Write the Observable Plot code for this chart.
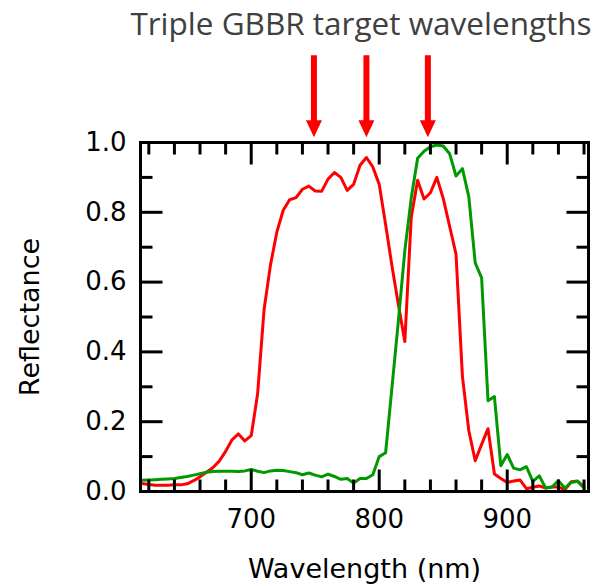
<!DOCTYPE html>
<html>
<head>
<meta charset="utf-8">
<script src="https://cdn.jsdelivr.net/npm/d3@7"></script>
<script src="https://cdn.jsdelivr.net/npm/@observablehq/plot@0.6"></script>
<style>
  html, body { margin: 0; padding: 0; background: #fff; }
</style>
</head>
<body>
<div id="chart"></div>
<script>
const wavelengths = [613, 620, 625, 630, 635, 640, 645, 650, 655, 660,
  665, 670, 675, 680, 685, 690, 695, 700, 705, 710,
  715, 720, 725, 730, 735, 740, 745, 750, 755, 760,
  765, 770, 775, 780, 785, 790, 795, 800, 805, 810,
  815, 820, 825, 830, 835, 840, 845, 850, 855, 860,
  865, 870, 875, 880, 885, 890, 895, 900, 905, 910,
  915, 920, 925, 930, 935, 940, 945, 950, 955, 960];

const redReflectance = [0.024, 0.020, 0.018, 0.018, 0.018, 0.019, 0.019, 0.022, 0.031, 0.042,
  0.055, 0.068, 0.087, 0.115, 0.148, 0.165, 0.145, 0.160, 0.280, 0.520,
  0.648, 0.743, 0.806, 0.836, 0.842, 0.866, 0.875, 0.861, 0.860, 0.895,
  0.914, 0.900, 0.863, 0.880, 0.935, 0.957, 0.930, 0.880, 0.765, 0.645,
  0.535, 0.430, 0.785, 0.892, 0.838, 0.856, 0.900, 0.840, 0.760, 0.680,
  0.330, 0.174, 0.088, 0.135, 0.180, 0.050, 0.037, 0.026, 0.030, 0.033,
  0.008, 0.012, 0.016, 0.010, 0.013, 0.013, 0.005, 0.028, 0.030, 0.013];

const greenReflectance = [0.032, 0.033, 0.034, 0.035, 0.036, 0.037, 0.040, 0.043, 0.047, 0.051,
  0.055, 0.057, 0.058, 0.058, 0.058, 0.057, 0.059, 0.063, 0.058, 0.054,
  0.059, 0.061, 0.060, 0.057, 0.054, 0.048, 0.053, 0.047, 0.042, 0.050,
  0.043, 0.035, 0.037, 0.024, 0.037, 0.037, 0.048, 0.100, 0.111, 0.300,
  0.490, 0.690, 0.840, 0.955, 0.975, 0.988, 0.993, 0.990, 0.968, 0.904,
  0.925, 0.844, 0.655, 0.612, 0.260, 0.272, 0.074, 0.106, 0.067, 0.062,
  0.071, 0.029, 0.045, 0.010, 0.013, 0.031, 0.010, 0.026, 0.029, 0.010];

const targetWavelengths = [749, 790, 838];
const arrowTopValue = 1.25;

const xMajorTicks = [700, 800, 900];
const xMinorTicks = [620, 640, 660, 680, 720, 740, 760, 780, 820, 840, 860, 880, 920, 940, 960];
const yMajorTicks = [0, 0.2, 0.4, 0.6, 0.8, 1.0];
const yMinorTicks = [0.1, 0.3, 0.5, 0.7, 0.9];

const titleText = "Triple GBBR target wavelengths";
const xLabel = "Wavelength (nm)";
const yLabel = "Reflectance";

const table = wavelengths.map((w, i) => ({w, red: redReflectance[i], green: greenReflectance[i]}));

const tickShape = { draw(ctx, l) { ctx.moveTo(0, 0); ctx.lineTo(0, -l); } };
const arrowShape = {
  draw(ctx, l) {
    const hw = 3, W = 8, H = 17;
    ctx.moveTo(-hw, 0);
    ctx.lineTo(-hw, -(l - H));
    ctx.lineTo(-W, -(l - H));
    ctx.lineTo(0, -l);
    ctx.lineTo(W, -(l - H));
    ctx.lineTo(hw, -(l - H));
    ctx.lineTo(hw, 0);
    ctx.closePath();
  }
};

function ticks(values, channel, frameAnchor, rotate, length) {
  return Plot.vector(values, {
    [channel]: d => d, frameAnchor, rotate, length, anchor: "start", shape: tickShape,
    stroke: "black", strokeWidth: 3, strokeLinecap: "butt"
  });
}

const chart = Plot.plot({
  width: 607,
  height: 586,
  marginTop: 142,
  marginRight: 19,
  marginBottom: 95,
  marginLeft: 140,
  style: { fontFamily: "DejaVu Sans", background: "white", color: "black" },
  x: { domain: [613.5, 963.5], axis: null },
  y: { domain: [0, 1], axis: null },
  marks: [
    Plot.line(table, { x: "w", y: "red", stroke: "#ff0000", strokeWidth: 3, strokeLinejoin: "round", clip: true }),
    Plot.line(table, { x: "w", y: "green", stroke: "#009900", strokeWidth: 3, strokeLinejoin: "round", clip: true }),
    ticks(xMajorTicks, "x", "bottom", 0, 22),
    ticks(xMinorTicks, "x", "bottom", 0, 12),
    ticks(xMajorTicks, "x", "top", 180, 22),
    ticks(xMinorTicks, "x", "top", 180, 12),
    ticks(yMajorTicks, "y", "left", 90, 22),
    ticks(yMinorTicks, "y", "left", 90, 12),
    ticks(yMajorTicks, "y", "right", -90, 22),
    ticks(yMinorTicks, "y", "right", -90, 12),
    Plot.frame({ stroke: "black", strokeWidth: 3 }),
    Plot.text(xMajorTicks, { x: d => d, frameAnchor: "bottom", dy: 28, text: d => String(d), fontSize: 26, textAnchor: "middle", lineAnchor: "middle", fill: "black" }),
    Plot.text(yMajorTicks, { y: d => d, frameAnchor: "left", dx: -14, text: d => d.toFixed(1), fontSize: 26, textAnchor: "end", lineAnchor: "middle", fill: "black" }),
    Plot.text([xLabel], { frameAnchor: "bottom", dy: 78, text: d => d, fontSize: 27, textAnchor: "middle", lineAnchor: "middle", fill: "black" }),
    Plot.text([yLabel], { frameAnchor: "left", dx: -110, text: d => d, fontSize: 27, rotate: -90, textAnchor: "middle", lineAnchor: "middle", fill: "black" }),
    Plot.text([titleText], { frameAnchor: "top", dx: -3.5, dy: -118, text: d => d, fontFamily: "Open Sans", fontSize: 31.5, textAnchor: "middle", lineAnchor: "middle", fill: "#404040" }),
    Plot.vector(targetWavelengths, { x: d => d, y: () => arrowTopValue, rotate: 180, length: 82, anchor: "start", shape: arrowShape, fill: "#ff0000", stroke: "none" })
  ]
});

document.getElementById("chart").append(chart);
</script>
</body>
</html>
